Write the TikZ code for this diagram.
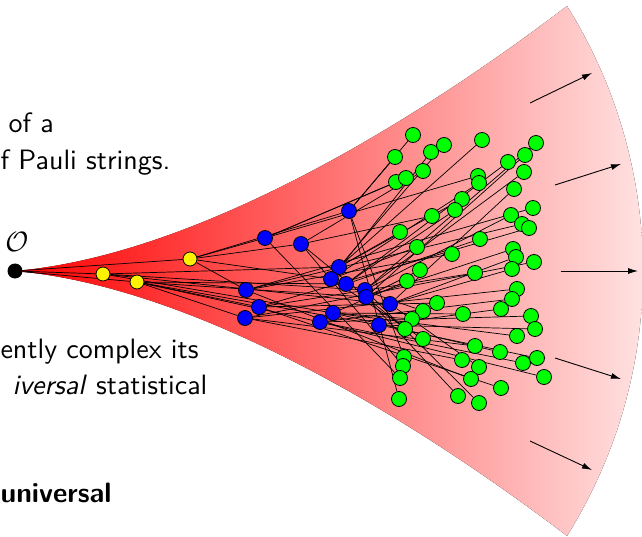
\RequirePackage{fix-cm}
\documentclass[tikz,border=0pt]{standalone}
\usetikzlibrary{arrows.meta}
\pgfdeclarelayer{bg}\pgfdeclarelayer{edges}
\pgfsetlayers{bg,edges,main}
\tikzset{
 vtx/.style={circle,draw=black,line width=0.8pt,inner sep=0pt,minimum size=15pt},
 gn/.style={vtx,fill=green},
 bn/.style={vtx,fill=blue},
 yn/.style={vtx,fill=yellow,minimum size=14pt},
 lnk/.style={black,line width=0.7pt},
 flow/.style={black,line width=0.9pt,-{Latex[length=10pt,width=6pt]}},
 txt/.style={anchor=base west,inner sep=0pt,scale=2.8,font=\sffamily\fontsize{10}{12}\selectfont}
}
\begin{document}
\begin{tikzpicture}[x=1pt,y=-1pt]
\useasboundingbox (0,0) rectangle (642,537);
\begin{pgfonlayer}{bg}
\fill[left color=red, right color=red!8]
  (15,271) .. controls (200,255) and (420,118) .. (567,6)
  arc[start angle=-32, end angle=32, radius=500]
  .. controls (420,424) and (200,287) .. (15,271) -- cycle;
\end{pgfonlayer}
% text
\node[txt] (t1) at (8,132.5) {of a};
\node[txt] (t2) at (0,170) {f Pauli strings.};
\node[txt] (t3) at (0,358) {ently complex its};
\node[txt] (t4) at (12,394) {\textit{iversal} statistical};
\node[txt] (t5) at (0,502) {\textbf{universal}};
\node[inner sep=0pt,font=\fontsize{28}{34}\selectfont] (olab) at (17,242) {$\mathcal{O}$};
% origin
\node[circle,fill=black,inner sep=0pt,minimum size=15pt] (O) at (15,271) {};
% yellow
\foreach \n/\x/\y in {Y1/103/274,Y2/137/282,Y3/190/259}
  \node[yn] (\n) at (\x,\y) {};
% blue
\foreach \n/\x/\y in {B1/349/211,B2/265/238,B3/301/244,B4/339/267,B5/331/279,
  B6/346/284,B7/365/290,B8/366/297,B9/390/304,B10/246/290,B11/259/307,
  B12/245/318,B13/333/313,B14/320/322,B15/379/325}
  \node[bn] (\n) at (\x,\y) {};
% green
\foreach \n/\x/\y in {g1/413/135,g2/482/140,g3/536/143,g4/395/157,g5/431/152,
  g6/444/145,g7/508/162,g8/525/155,g9/396/182,g10/406/178,g11/423/171,
  g12/478/176,g13/479/183,g14/524/172,g15/514/189,g16/462/199,g17/455/210,
  g18/533/208,g19/432/216,g20/511/215,g21/522/224,g22/529/228,g23/400/232,
  g24/480/239,g25/417/247,g26/452/254,g27/513/249,g28/516/257,g29/534/262,
  g30/420/270,g31/475/273,g32/512/269,g33/407/281,g34/517/289,g35/512/299,
  g36/437/303,g37/423/311,g38/463/314,g39/501/309,g40/531/316,g41/535/329,
  g42/412/319,g43/405/329,g44/423/339,g45/517/336,g46/475/346,g47/500/352,
  g48/523/363,g49/537/358,g50/462/360,g51/479/367,g52/544/377,g53/404/357,
  g54/403/366,g55/400/378,g56/471/379,g57/501/388,g58/399/399,g59/458/396,
  g60/479/403}
  \node[gn] (\n) at (\x,\y) {};
% edges
\begin{pgfonlayer}{edges}
\foreach \p/\c in {O/Y1,O/Y2,O/Y3,
  Y1/B4,Y1/B9,Y1/B13,Y1/B7,
  Y2/B11,Y2/B12,Y2/B14,Y2/B15,Y2/B8,Y2/B6,
  Y3/B1,Y3/B2,Y3/B3,Y3/B10,Y3/B5,
  B1/g1,B1/g4,B1/g58,B1/g53,
  B2/g9,B2/g10,B2/g12,B2/g55,
  B3/g11,B3/g19,B3/g43,B3/g54,
  B4/g2,B4/g6,B4/g16,B4/g23,
  B5/g5,B5/g13,B5/g25,B5/g44,
  B6/g7,B6/g17,B6/g24,B6/g37,
  B7/g3,B7/g14,B7/g20,B7/g60,
  B8/g8,B8/g27,B8/g30,B8/g59,
  B9/g15,B9/g28,B9/g32,B9/g51,
  B10/g18,B10/g21,B10/g26,B10/g56,
  B11/g22,B11/g31,B11/g36,B11/g57,
  B12/g29,B12/g34,B12/g46,B12/g50,
  B13/g33,B13/g38,B13/g45,B13/g47,B13/g42,
  B14/g35,B14/g40,B14/g48,B14/g52,
  B15/g39,B15/g41,B15/g49}
  \draw[lnk] (\p) -- (\c);
\end{pgfonlayer}
% arrows
\coordinate (a1s) at (530,103); \coordinate (a1e) at (592,73);
\coordinate (a2s) at (555,185); \coordinate (a2e) at (621,164);
\coordinate (a3s) at (561,271); \coordinate (a3e) at (638,271);
\coordinate (a4s) at (555,358); \coordinate (a4e) at (621,379);
\coordinate (a5s) at (530,441); \coordinate (a5e) at (592,470);
\foreach \i in {1,...,5} \draw[flow] (a\i s) -- (a\i e);
\end{tikzpicture}
\end{document}
